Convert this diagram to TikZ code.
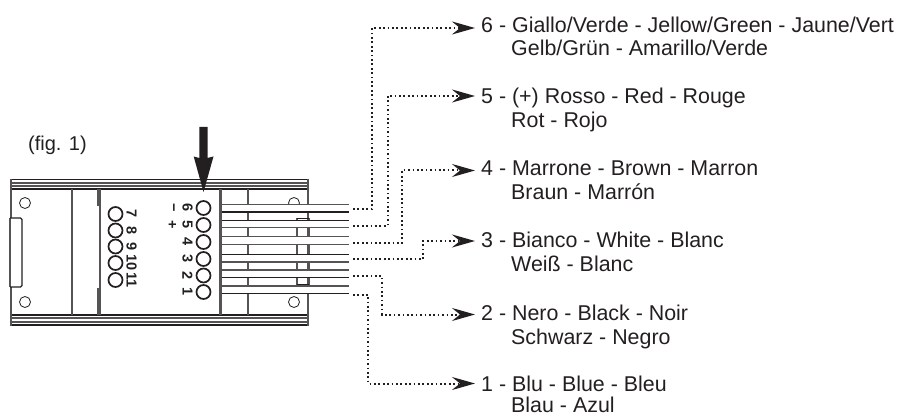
\documentclass[tikz,border=0pt]{standalone}
\usepackage{fontspec}
\setmainfont{Liberation Sans}
\usetikzlibrary{arrows.meta}
\definecolor{ink}{HTML}{231F20}
\definecolor{mid}{HTML}{555354}
\tikzset{
  lbl/.style={anchor=base west,inner xsep=6pt,inner ysep=0pt,font=\fontsize{21.4}{24}\selectfont,text=ink},
  edge/.style={draw=ink,line width=1.1pt},
  thick bar/.style={draw=mid,line width=2pt},
  thin bar/.style={draw=mid,line width=1.1pt},
  hole/.style={draw=ink,line width=1.7pt,fill=white},
  small hole/.style={draw=ink,line width=.8pt,fill=white},
  pin/.style={anchor=center,rotate=-90,inner sep=0pt,font=\fontsize{14.5}{14.5}\bfseries\selectfont,text=ink},
  wiredot/.style={draw=ink,line width=2pt,dash pattern=on 1.7pt off 2.7pt},
  tipped/.style={wiredot,-{Stealth[length=23pt,width=13pt,inset=8pt,fill=ink]}},
  wire/.style={fill=white,draw=none},
}
\begin{document}
\begin{tikzpicture}[x=1pt,y=-1pt]
\useasboundingbox (0,0) rectangle (898,417);
% body
\draw[edge] (10,179.5) -- (308,179.5);
\draw[thin bar] (10,183) -- (308,183) (10,186) -- (308,186);
\draw[edge] (10,189) -- (308,189);
\draw[edge] (10,315) -- (308,315);
\draw[thin bar] (10,318) -- (308,318) (10,322) -- (308,322);
\draw[edge] (10,325) -- (308,325);
\draw[thick bar] (11,179) -- (11,218) (11,287) -- (11,325.5);
\draw[thin bar] (10,218) -- (10,287);
\draw[thick bar] (308,179) -- (308,325.5);
% end tab
\draw[edge,draw=ink,line width=1.4pt,rounded corners=1.5pt] (10,218) -- (22,218) -- (22,287) -- (10,287);
% partition bars
\draw[thick bar] (71.5,189) -- (71.5,315);
\draw[thin bar] (100,189) -- (100,315);
\draw[thick bar,line width=3pt] (98.2,189) -- (98.2,206) (98.2,288) -- (98.2,315);
\draw[thick bar] (219.5,189) -- (219.5,315);
\draw[thin bar] (221.5,189) -- (221.5,315);
\draw[thick bar] (247.5,189) -- (247.5,315);
% slot
\draw[thick bar] (297,218) -- (297,285);
\draw[thin bar] (309,218) -- (309,285);
% small holes
\node[small hole,circle,minimum size=11pt,inner sep=0pt] (h1) at (25,203) {};
\node[small hole,circle,minimum size=11pt,inner sep=0pt] (h2) at (25,302) {};
\node[small hole,circle,minimum size=11pt,inner sep=0pt] (h3) at (294,203) {};
\node[small hole,circle,minimum size=11pt,inner sep=0pt] (h4) at (294,302) {};
% wires
\foreach \a/\b in {204.3/212,220.3/227.7,236.7/244.7,254.3/262,270/277.7,285.7/293.3}
  \fill[wire] (222.5,\a) rectangle (349,\b);
\draw[edge] (297,218.5) -- (309,218.5) (297,285) -- (309,285);
\foreach \y/\c/\w in {204.3/mid/1.2,212/ink/1.1,220.3/ink/1.1,227.7/mid/1.2,236.7/mid/1.2,244.7/mid/1.2,254.3/ink/1.1,262/mid/1.2,270/mid/1.2,277.7/ink/1.1,285.7/mid/1.9,293.3/ink/1.1}
  \draw[draw=\c,line width=\w pt] (222,\y) -- (349,\y);
% right pin row
\foreach \n/\y in {6/208,5/225,4/242,3/259,2/275.5,1/292}{
  \node[hole,circle,minimum size=14pt,inner sep=0pt] (r\n) at (203.5,\y) {};
  \node[pin] (rt\n) at (187.5,\y) {\n};
}
\node[pin] (minus) at (172,208) {−};
\node[pin] (plus) at (172,225) {+};
% left pin row
\foreach \n/\y in {7/214,8/230.5,9/246.5,10/263,11/280}{
  \node[hole,circle,minimum size=14pt,inner sep=0pt] (s\n) at (115.5,\y) {};
  \node[pin] (st\n) at (131.5,\y) {\n};
}
% big arrow
\fill[ink] (199.3,127) -- (207.5,127) -- (207.5,158) -- (213.5,156.5) -- (203.5,192) -- (193.7,156.5) -- (199.3,158) -- cycle;
\node[lbl,inner xsep=0pt,font=\fontsize{20}{24}\selectfont] (fig) at (28,151) {(fig. 1)};
% labels
\node[lbl] (l6) at (475,32.3) {6 - Giallo/Verde - Jellow/Green - Jaune/Vert};
\node[lbl] (m6) at (505,56) {Gelb/Grün - Amarillo/Verde};
\node[lbl] (l5) at (475,104) {5 - (+) Rosso - Red - Rouge};
\node[lbl] (m5) at (505,128) {Rot - Rojo};
\node[lbl] (l4) at (475,175.7) {4 - Marrone - Brown - Marron};
\node[lbl] (m4) at (505,199.7) {Braun - Marrón};
\node[lbl] (l3) at (475,247.7) {3 - Bianco - White - Blanc};
\node[lbl] (m3) at (505,271.7) {Weiß - Blanc};
\node[lbl] (l2) at (475,320) {2 - Nero - Black - Noir};
\node[lbl] (m2) at (505,344) {Schwarz - Negro};
\node[lbl] (l1) at (475,391.7) {1 - Blu - Blue - Bleu};
\node[lbl] (m1) at (505,412.5) {Blau - Azul};
% connectors
\coordinate (w6) at (353,209);
\coordinate (w5) at (353,226);
\coordinate (w4) at (353,243);
\coordinate (w3) at (353,259.5);
\coordinate (w2) at (353,276);
\coordinate (w1) at (353,294.5);
\coordinate (k6) at (372,28);
\coordinate (k5) at (387.5,96);
\coordinate (k4) at (402,170.5);
\coordinate (k3) at (423,241);
\coordinate (k2) at (382,314.5);
\coordinate (k1) at (368,383.5);
\foreach \n in {6,5,4,3,2,1}
  \draw[tipped] (w\n) -| (k\n) -- (k\n -| l\n.west);
\end{tikzpicture}
\end{document}
